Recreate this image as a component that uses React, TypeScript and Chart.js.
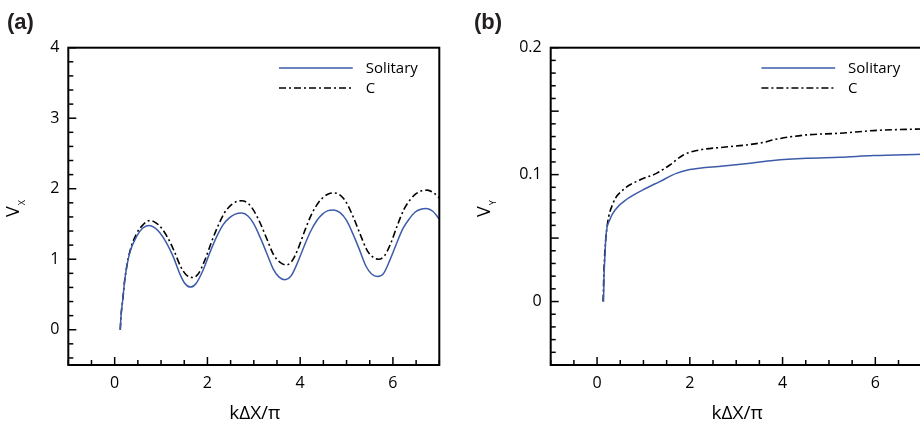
import React, { useEffect, useRef } from "react";
import { Chart, registerables } from "chart.js";

Chart.register(...registerables);

// ---------- Data: panel (a) V_X ----------
const xA_sol = [0.12, 0.14, 0.17, 0.22, 0.32, 0.47, 0.6, 0.74, 0.86, 0.97, 1.12, 1.26, 1.4, 1.51, 1.635, 1.76, 1.91, 2.05, 2.2, 2.34, 2.46, 2.6, 2.74, 2.88, 3.0, 3.13, 3.27, 3.42, 3.54, 3.67, 3.8, 3.93, 4.07, 4.22, 4.36, 4.48, 4.6, 4.72, 4.86, 5.0, 5.13, 5.27, 5.42, 5.54, 5.67, 5.8, 5.93, 6.07, 6.22, 6.36, 6.48, 6.6, 6.72, 6.86, 7.0];
const yA_sol = [0, 0.22, 0.4, 0.72, 1.08, 1.32, 1.44, 1.48, 1.45, 1.38, 1.23, 1.04, 0.8, 0.66, 0.605, 0.66, 0.85, 1.09, 1.32, 1.49, 1.58, 1.64, 1.655, 1.61, 1.5, 1.32, 1.1, 0.86, 0.75, 0.71, 0.76, 0.93, 1.16, 1.39, 1.55, 1.64, 1.69, 1.7, 1.66, 1.55, 1.37, 1.15, 0.9, 0.79, 0.755, 0.8, 0.98, 1.21, 1.44, 1.58, 1.67, 1.71, 1.72, 1.68, 1.57];

const xA_c = [0.12, 0.14, 0.17, 0.22, 0.32, 0.47, 0.6, 0.76, 0.88, 1.0, 1.14, 1.28, 1.42, 1.54, 1.68, 1.8, 1.94, 2.08, 2.22, 2.36, 2.48, 2.6, 2.74, 2.88, 3.0, 3.14, 3.28, 3.43, 3.56, 3.69, 3.82, 3.95, 4.09, 4.24, 4.38, 4.5, 4.62, 4.74, 4.88, 5.0, 5.15, 5.29, 5.44, 5.57, 5.69, 5.82, 5.95, 6.09, 6.24, 6.38, 6.5, 6.62, 6.74, 6.88, 7.0];
const yA_c = [0, 0.22, 0.4, 0.72, 1.09, 1.36, 1.48, 1.55, 1.52, 1.45, 1.31, 1.12, 0.9, 0.78, 0.74, 0.79, 0.98, 1.23, 1.46, 1.65, 1.75, 1.81, 1.83, 1.79, 1.69, 1.51, 1.29, 1.06, 0.96, 0.92, 0.97, 1.14, 1.39, 1.63, 1.79, 1.88, 1.93, 1.94, 1.9, 1.8, 1.59, 1.36, 1.13, 1.03, 1.0, 1.05, 1.22, 1.47, 1.71, 1.85, 1.93, 1.97, 1.98, 1.94, 1.87];

// ---------- Data: panel (b) V_Y ----------
const xB_sol = [0.14, 0.15, 0.166, 0.19, 0.27, 0.42, 0.64, 0.99, 1.35, 1.71, 2.0, 2.72, 3.3, 3.8, 4.52, 5.24, 5.96, 7.0];
const yB_sol = [0, 0.02, 0.033, 0.051, 0.064, 0.0735, 0.0806, 0.088, 0.0945, 0.101, 0.104, 0.1068, 0.109, 0.1112, 0.1129, 0.1137, 0.115, 0.116];

const xB_c = [0.13, 0.15, 0.166, 0.216, 0.346, 0.56, 0.92, 1.28, 1.57, 1.86, 2.15, 2.72, 3.23, 3.6, 3.85, 4.52, 5.24, 5.96, 7.0];
const yB_c = [0, 0.025, 0.038, 0.059, 0.0775, 0.088, 0.0958, 0.101, 0.1076, 0.1155, 0.119, 0.1216, 0.1234, 0.1255, 0.1278, 0.1313, 0.1326, 0.1347, 0.136];

// ---------- Tick labels ----------
const xTickValues = [0, 2, 4, 6];
const yTickValuesA = [0, 1, 2, 3, 4];
const yTickValuesB = [0, 0.1, 0.2];
const seriesLabels = ["Solitary", "C"];

const FONT = "'Open Sans', 'Noto Sans', sans-serif";
const BLUE = "#3d5ba9";

const toPoints = (xs: number[], ys: number[]) => xs.map((x, i) => ({ x, y: ys[i] }));

type PanelCfg = {
  tag: string;
  sub: string;
  width: number;
  padLeft: number;
  padRight: number;
  yAxisWidth: number;
  yMin: number;
  yMax: number;
  yTicks: number[];
  yMinorStep: number;
  yMajorStep: number;
  sol: { x: number; y: number }[];
  c: { x: number; y: number }[];
  titleBaseX: number;
};

function makeDecor(cfg: PanelCfg) {
  return {
    id: "decor",
    afterDatasetsDraw(chart: any) {
      const { ctx, chartArea: a, scales } = chart;
      const xs = scales.x;
      const ys = scales.y;
      ctx.save();
      ctx.strokeStyle = "#000";
      ctx.lineWidth = 1.5;
      ctx.lineCap = "butt";
      // x ticks (inward, bottom)
      for (let k = -2; k <= 14; k++) {
        const v = k * 0.5;
        const p = xs.getPixelForValue(v);
        const len = k % 4 === 0 ? 8 : 5;
        ctx.beginPath();
        ctx.moveTo(p, a.bottom);
        ctx.lineTo(p, a.bottom - len);
        ctx.stroke();
      }
      // y ticks (inward, left)
      const kmin = Math.ceil(cfg.yMin / cfg.yMinorStep - 1e-6);
      const kmax = Math.floor(cfg.yMax / cfg.yMinorStep + 1e-6);
      const ratio = Math.round(cfg.yMajorStep / cfg.yMinorStep);
      for (let k = kmin; k <= kmax; k++) {
        const v = k * cfg.yMinorStep;
        const p = ys.getPixelForValue(v);
        const len = ((k % ratio) + ratio) % ratio === 0 ? 8 : 5;
        ctx.beginPath();
        ctx.moveTo(a.left, p);
        ctx.lineTo(a.left + len, p);
        ctx.stroke();
      }
      // frame
      ctx.lineWidth = 2;
      ctx.strokeRect(a.left, a.top, a.right - a.left, a.bottom - a.top);

      // legend
      const lx0 = a.right - 160.3;
      const lx1 = a.right - 86.5;
      const tx = a.right - 73.6;
      ctx.font = `15px ${FONT}`;
      ctx.fillStyle = "#000";
      ctx.textAlign = "left";
      ctx.textBaseline = "middle";
      chart.data.datasets.forEach((ds: any, i: number) => {
        const y = a.top + 20.3 + i * 20;
        ctx.strokeStyle = ds.borderColor;
        ctx.lineWidth = ds.borderWidth;
        ctx.setLineDash(ds.borderDash || []);
        ctx.beginPath();
        ctx.moveTo(lx0, y);
        ctx.lineTo(lx1, y);
        ctx.stroke();
        ctx.setLineDash([]);
        ctx.fillText(ds.label, tx, y + 1);
      });

      // x axis title
      ctx.font = `19px ${FONT}`;
      ctx.textAlign = "center";
      ctx.textBaseline = "middle";
      ctx.fillText("k\u0394X/\u03c0", (a.left + a.right) / 2 + 1, 414);

      // y axis title (rotated, with subscript)
      ctx.translate(cfg.titleBaseX, 217);
      ctx.rotate(-Math.PI / 2);
      ctx.textAlign = "left";
      ctx.textBaseline = "alphabetic";
      ctx.font = `18px ${FONT}`;
      ctx.fillText("V", 0, 0);
      const w = ctx.measureText("V").width;
      ctx.font = `9px ${FONT}`;
      ctx.fillText(cfg.sub, w + 1, 6);
      ctx.restore();
    },
  };
}

function Panel({ cfg }: { cfg: PanelCfg }) {
  const ref = useRef<HTMLCanvasElement>(null);
  useEffect(() => {
    if (!ref.current) return;
    const tickFont = { family: FONT, size: 16 };
    const chart = new Chart(ref.current, {
      type: "line",
      data: {
        datasets: [
          {
            label: seriesLabels[0],
            data: cfg.sol,
            borderColor: BLUE,
            borderWidth: 1.5,
            pointRadius: 0,
            cubicInterpolationMode: "monotone",
            fill: false,
          },
          {
            label: seriesLabels[1],
            data: cfg.c,
            borderColor: "#000",
            borderWidth: 1.6,
            borderDash: [7, 3, 2, 3],
            pointRadius: 0,
            cubicInterpolationMode: "monotone",
            fill: false,
          },
        ],
      },
      options: {
        responsive: false,
        animation: false,
        devicePixelRatio: 1,
        parsing: false as any,
        layout: { padding: { left: cfg.padLeft, right: cfg.padRight, top: 0, bottom: 0 } },
        plugins: {
          legend: { display: false },
          tooltip: { enabled: false },
          title: {
            display: true,
            text: cfg.tag,
            align: "start",
            color: "#231f20",
            font: { family: "'Liberation Sans', Arial, sans-serif", size: 22, weight: "bold", lineHeight: 1.2 },
            padding: { top: 9.8, bottom: 11.5 },
          },
        },
        scales: {
          x: {
            type: "linear",
            min: -1,
            max: 7,
            afterFit: (s: any) => {
              s.height = 60;
            },
            afterBuildTicks: (s: any) => {
              s.ticks = xTickValues.map((v) => ({ value: v }));
            },
            grid: { display: false, drawTicks: false },
            border: { display: false },
            ticks: {
              padding: 9,
              font: tickFont,
              color: "#000",
              autoSkip: false,
              maxRotation: 0,
              callback: (v: any) => String(v),
            },
          },
          y: {
            type: "linear",
            min: cfg.yMin,
            max: cfg.yMax,
            afterFit: (s: any) => {
              s.width = cfg.yAxisWidth;
            },
            afterBuildTicks: (s: any) => {
              s.ticks = cfg.yTicks.map((v) => ({ value: v }));
            },
            grid: { display: false, drawTicks: false },
            border: { display: false },
            ticks: {
              padding: 9,
              font: tickFont,
              color: "#000",
              autoSkip: false,
              callback: (v: any) => String(v),
            },
          },
        },
      } as any,
      plugins: [makeDecor(cfg)],
    });
    return () => chart.destroy();
  }, [cfg]);
  return <canvas ref={ref} width={cfg.width} height={425} style={{ display: "block" }} />;
}

const cfgA: PanelCfg = {
  tag: "(a)",
  sub: "X",
  width: 460,
  padLeft: 7,
  padRight: 20.7,
  yAxisWidth: 61.3,
  yMin: -0.5,
  yMax: 4,
  yTicks: yTickValuesA,
  yMinorStep: 0.2,
  yMajorStep: 1,
  sol: toPoints(xA_sol, yA_sol),
  c: toPoints(xA_c, yA_c),
  titleBaseX: 19,
};

const cfgB: PanelCfg = {
  tag: "(b)",
  sub: "Y",
  width: 470,
  padLeft: 14,
  padRight: 8.3,
  yAxisWidth: 76.7,
  yMin: -0.05,
  yMax: 0.2,
  yTicks: yTickValuesB,
  yMinorStep: 0.01,
  yMajorStep: 0.05,
  sol: toPoints(xB_sol, yB_sol),
  c: toPoints(xB_c, yB_c),
  titleBaseX: 30,
};

export default function App() {
  return (
    <div
      style={{
        position: "absolute",
        left: 0,
        top: 0,
        width: 920,
        height: 425,
        overflow: "hidden",
        background: "#fff",
      }}
    >
      <div style={{ position: "absolute", left: 0, top: 0 }}>
        <Panel cfg={cfgA} />
      </div>
      <div style={{ position: "absolute", left: 460, top: 0 }}>
        <Panel cfg={cfgB} />
      </div>
    </div>
  );
}
